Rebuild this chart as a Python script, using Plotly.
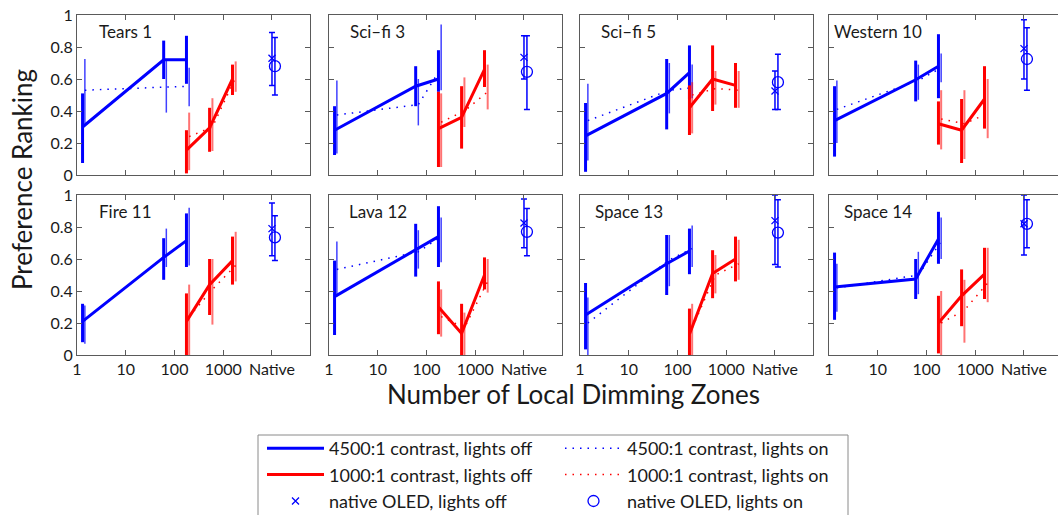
import plotly.graph_objects as go

# ---------------- data ----------------
titles = ["Tears 1", "Sci\u2013fi 3", "Sci\u2013fi 5", "Western 10",
          "Fire 11", "Lava 12", "Space 13", "Space 14"]

x_tickvals = [1, 10, 100, 1000, 10000]
x_ticktext = ["1", "10", "100", "1000", "Native"]
y_tickvals = [0, 0.2, 0.4, 0.6, 0.8, 1]
y_ticktext = ["0", "0.2", "0.4", "0.6", "0.8", "1"]

blue_off_x = [1.3, 60, 176]
blue_on_x = [1.45, 68, 200]
red_off_x = [176, 525, 1550]
red_on_x = [200, 600, 1800]
native_off_x = [10000]
native_on_x = [11500]

blue_off_mean = [[0.30, 0.72, 0.72], [0.28, 0.555, 0.60], [0.245, 0.51, 0.64], [0.34, 0.595, 0.68],
                 [0.21, 0.61, 0.715], [0.365, 0.66, 0.74], [0.25, 0.57, 0.65], [0.425, 0.475, 0.725]]
blue_off_lo = [[0.075, 0.60, 0.57], [0.125, 0.43, 0.52], [0.02, 0.285, 0.475], [0.115, 0.46, 0.48],
               [0.08, 0.47, 0.55], [0.125, 0.49, 0.55], [0.035, 0.375, 0.505], [0.22, 0.35, 0.57]]
blue_off_hi = [[0.51, 0.84, 0.87], [0.43, 0.68, 0.78], [0.45, 0.725, 0.81], [0.555, 0.715, 0.88],
               [0.32, 0.73, 0.885], [0.59, 0.82, 0.93], [0.45, 0.75, 0.79], [0.64, 0.60, 0.895]]

blue_on_mean = [[0.53, 0.55, 0.555], [0.375, 0.44, 0.67], [0.34, 0.53, 0.545], [0.41, 0.59, 0.67],
                [0.22, 0.625, 0.72], [0.535, 0.645, 0.74], [0.20, 0.595, 0.665], [0.42, 0.50, 0.71]]
blue_on_lo = [[0.32, 0.39, 0.43], [0.135, 0.31, 0.53], [0.09, 0.385, 0.48], [0.20, 0.47, 0.58],
              [0.07, 0.55, 0.56], [0.365, 0.54, 0.58], [0.0, 0.43, 0.55], [0.27, 0.38, 0.60]]
blue_on_hi = [[0.725, 0.72, 0.67], [0.59, 0.60, 0.94], [0.57, 0.70, 0.69], [0.59, 0.69, 0.76],
              [0.31, 0.79, 0.92], [0.71, 0.78, 0.86], [0.36, 0.75, 0.81], [0.57, 0.645, 0.86]]

red_off_mean = [[0.155, 0.295, 0.60], [0.29, 0.36, 0.66], [0.42, 0.60, 0.56], [0.32, 0.28, 0.475],
                [0.21, 0.44, 0.59], [0.30, 0.135, 0.50], [0.13, 0.51, 0.60], [0.20, 0.37, 0.505]]
red_off_lo = [[0.01, 0.145, 0.50], [0.05, 0.165, 0.55], [0.25, 0.40, 0.42], [0.19, 0.075, 0.29],
              [0.0, 0.25, 0.44], [0.13, 0.0, 0.41], [0.0, 0.355, 0.46], [0.01, 0.18, 0.35]]
red_off_hi = [[0.28, 0.42, 0.69], [0.52, 0.555, 0.78], [0.56, 0.81, 0.70], [0.46, 0.475, 0.68],
              [0.385, 0.60, 0.74], [0.46, 0.32, 0.61], [0.29, 0.655, 0.74], [0.37, 0.535, 0.67]]

red_on_mean = [[0.24, 0.30, 0.61], [0.33, 0.40, 0.52], [0.50, 0.54, 0.53], [0.35, 0.32, 0.385],
               [0.24, 0.41, 0.56], [0.24, 0.17, 0.46], [0.17, 0.50, 0.57], [0.20, 0.28, 0.45]]
red_on_lo = [[0.03, 0.15, 0.52], [0.05, 0.30, 0.41], [0.26, 0.44, 0.42], [0.16, 0.10, 0.23],
             [0.0, 0.19, 0.46], [0.115, 0.0, 0.39], [0.0, 0.385, 0.47], [0.0, 0.077, 0.33]]
red_on_hi = [[0.39, 0.48, 0.71], [0.51, 0.61, 0.69], [0.58, 0.65, 0.65], [0.53, 0.53, 0.60],
             [0.44, 0.60, 0.77], [0.41, 0.265, 0.60], [0.32, 0.625, 0.72], [0.40, 0.47, 0.67]]

native_off_mean = [0.73, 0.735, 0.525, 0.79, 0.79, 0.825, 0.84, 0.82]
native_off_lo = [0.56, 0.60, 0.41, 0.60, 0.62, 0.67, 0.565, 0.625]
native_off_hi = [0.89, 0.87, 0.65, 0.97, 0.95, 0.975, 1.0, 1.0]
native_on_mean = [0.68, 0.645, 0.58, 0.725, 0.735, 0.77, 0.765, 0.82]
native_on_lo = [0.50, 0.41, 0.41, 0.53, 0.59, 0.62, 0.55, 0.67]
native_on_hi = [0.86, 0.87, 0.755, 0.92, 0.87, 0.915, 0.97, 0.97]

names = ["4500:1 contrast, lights off", "4500:1 contrast, lights on",
         "1000:1 contrast, lights off", "1000:1 contrast, lights on",
         "native OLED, lights off", "native OLED, lights on"]

# ---------------- layout geometry ----------------
W, H = 1058, 515
ML, MR, MT, MB = 77, 0, 15, 160
PW = W - ML - MR
PH = H - MT - MB
col_left_px = [77, 329, 580, 829]
panel_w = 233
decade_px = panel_w / 4.78
row_dom = [[(355 - 175) / PH, 1.0], [0.0, (355 - 195) / PH]]

BLUE = "rgb(0,0,255)"
RED = "rgb(255,0,0)"
RED_LIGHT = "rgba(255,0,0,0.55)"
BLUE_LIGHT = "rgba(0,0,255,0.75)"
AX = "#5a5a5a"
FONT = "Lato"

fig = go.Figure()


def err(mean, lo, hi, color, thick, cap):
    return dict(type="data", symmetric=False,
                array=[h - m for m, h in zip(mean, hi)],
                arrayminus=[m - l for m, l in zip(mean, lo)],
                color=color, thickness=thick, width=cap)


annotations = []
for i in range(8):
    r, c = divmod(i, 4)
    ax_id = "" if i == 0 else str(i + 1)
    xa, ya = "x" + ax_id, "y" + ax_id
    first = (i == 0)

    fig.add_trace(go.Scatter(
        x=blue_off_x, y=blue_off_mean[i], mode="lines", xaxis=xa, yaxis=ya,
        line=dict(color=BLUE, width=3), name=names[0], legend="legend",
        showlegend=first, legendrank=1,
        error_y=err(blue_off_mean[i], blue_off_lo[i], blue_off_hi[i], BLUE, 3, 0)))
    fig.add_trace(go.Scatter(
        x=blue_on_x, y=blue_on_mean[i], mode="lines", xaxis=xa, yaxis=ya,
        line=dict(color=BLUE, width=1.5, dash="1.5px,6px"), name=names[1], legend="legend2",
        showlegend=first, legendrank=1,
        error_y=err(blue_on_mean[i], blue_on_lo[i], blue_on_hi[i], BLUE_LIGHT, 1.5, 0)))
    fig.add_trace(go.Scatter(
        x=red_on_x, y=red_on_mean[i], mode="lines", xaxis=xa, yaxis=ya,
        line=dict(color=RED, width=1.5, dash="1.5px,6px"), name=names[3], legend="legend2",
        showlegend=first, legendrank=2,
        error_y=err(red_on_mean[i], red_on_lo[i], red_on_hi[i], RED_LIGHT, 2, 0)))
    fig.add_trace(go.Scatter(
        x=red_off_x, y=red_off_mean[i], mode="lines", xaxis=xa, yaxis=ya,
        line=dict(color=RED, width=3), name=names[2], legend="legend",
        showlegend=first, legendrank=2,
        error_y=err(red_off_mean[i], red_off_lo[i], red_off_hi[i], RED, 3, 0)))
    fig.add_trace(go.Scatter(
        x=native_off_x, y=[native_off_mean[i]], mode="markers", xaxis=xa, yaxis=ya,
        marker=dict(symbol="x-thin-open", size=7, color=BLUE, line=dict(color=BLUE, width=1.3)),
        name=names[4], legend="legend", showlegend=first, legendrank=3,
        error_y=err([native_off_mean[i]], [native_off_lo[i]], [native_off_hi[i]], BLUE, 1.5, 3)))
    fig.add_trace(go.Scatter(
        x=native_on_x, y=[native_on_mean[i]], mode="markers", xaxis=xa, yaxis=ya,
        marker=dict(symbol="circle-open", size=11, color=BLUE, line=dict(color=BLUE, width=1.3)),
        name=names[5], legend="legend2", showlegend=first, legendrank=3,
        error_y=err([native_on_mean[i]], [native_on_lo[i]], [native_on_hi[i]], BLUE, 1.5, 3)))

    left = col_left_px[c]
    right = min(left + panel_w, W - MR)
    cut = (left + panel_w) > (W - MR)
    xr = (right - left) / decade_px
    tick_common = dict(linecolor=AX, linewidth=1, ticks="inside", ticklen=5, tickcolor=AX,
                       showgrid=False, zeroline=False, showline=True,
                       tickfont=dict(family=FONT, size=16, color="#1a1a1a"))
    fig.layout["xaxis" + ax_id] = dict(
        domain=[(left - ML) / PW, (right - ML) / PW], anchor=ya, type="log",
        range=[0, xr], tickvals=x_tickvals, ticktext=x_ticktext, mirror="ticks",
        showticklabels=(r == 1), **tick_common)
    fig.layout["yaxis" + ax_id] = dict(
        domain=row_dom[r], anchor=xa, range=[0, 1], tickvals=y_tickvals,
        ticktext=y_ticktext, showticklabels=(c == 0),
        mirror=(False if cut else "ticks"), **tick_common)

    annotations.append(dict(x=1.0, y=0.9, xref=xa, yref=ya, text=titles[i], showarrow=False,
                            xanchor="center", yanchor="middle",
                            font=dict(family=FONT, size=17, color="#1a1a1a")))

annotations.append(dict(x=(22 - ML) / PW, y=(355 - 180) / PH, xref="paper", yref="paper",
                        text="Preference Ranking", textangle=-90, showarrow=False,
                        xanchor="center", yanchor="middle",
                        font=dict(family=FONT, size=26, color="#1a1a1a")))
annotations.append(dict(x=(573 - ML) / PW, y=(355 - 394) / PH, xref="paper", yref="paper",
                        text="Number of Local Dimming Zones", showarrow=False,
                        xanchor="center", yanchor="middle",
                        font=dict(family=FONT, size=26, color="#1a1a1a")))

legend_common = dict(orientation="v", yanchor="top", xanchor="left",
                     bgcolor="rgba(0,0,0,0)", borderwidth=0, itemwidth=57,
                     font=dict(family=FONT, size=18, color="#1a1a1a"),
                     traceorder="normal", itemclick=False)

fig.update_layout(
    width=W, height=H, autosize=False,
    margin=dict(l=ML, r=MR, t=MT, b=MB, autoexpand=False),
    paper_bgcolor="white", plot_bgcolor="white",
    annotations=annotations,
    legend=dict(x=(262 - ML) / PW, y=(355 - 430) / PH, **legend_common),
    legend2=dict(x=(560 - ML) / PW, y=(355 - 430) / PH, **legend_common),
    shapes=[dict(type="rect", xref="paper", yref="paper",
                 x0=(258 - ML) / PW, x1=(848 - ML) / PW,
                 y0=(355 - 435) / PH, y1=(355 - 540) / PH,
                 line=dict(color="#8a8a8a", width=1), fillcolor="rgba(0,0,0,0)")],
)

fig.write_html("out.html", config={"displayModeBar": False},
               post_script="document.body.style.margin='0px';document.body.style.overflow='hidden';")
